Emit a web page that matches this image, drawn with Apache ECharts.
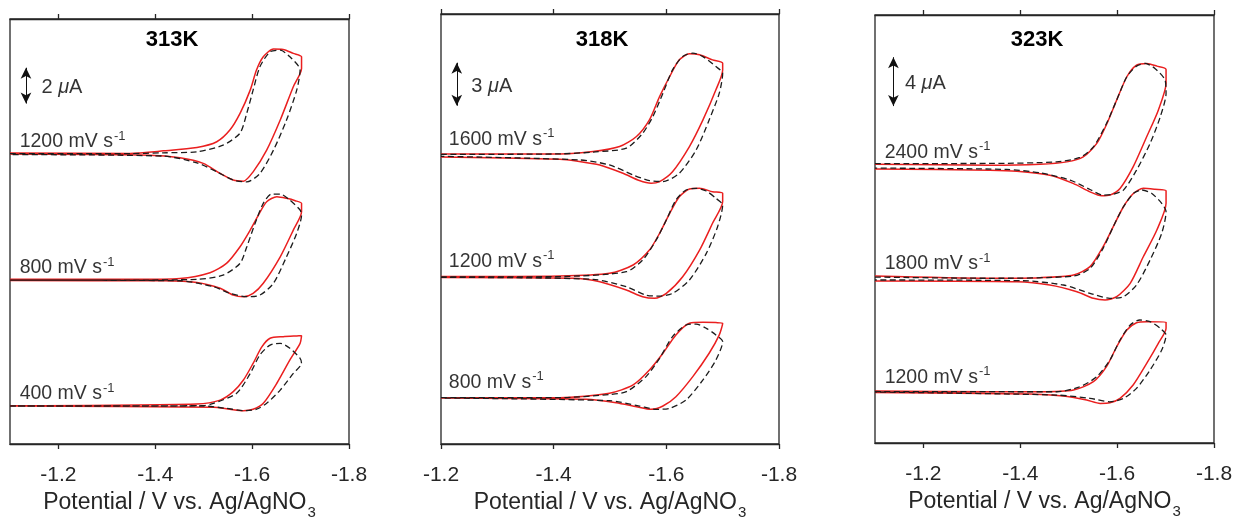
<!DOCTYPE html>
<html><head><meta charset="utf-8">
<script src="https://cdn.jsdelivr.net/npm/echarts@6/dist/echarts.min.js"></script>
<style>html,body{margin:0;padding:0;background:#fff}#c{width:1237px;height:517px}</style>
</head><body><div id="c"></div>
<script>
// ---------- data: [potential (V), current relative to each trace's baseline (µA)] ----------
const tickValues = [-1.2, -1.4, -1.6, -1.8];
const tickLabels = ['-1.2', '-1.4', '-1.6', '-1.8'];
const xAxisTitle = 'Potential / V vs. Ag/AgNO';

// 313 K
const rates313 = ['1200', '800', '400'];
const offsets313 = [16.18, 9.15, 2.12];
const exp313_1200 = [[-1.100,0.06],[-1.348,0.04],[-1.417,0.18],[-1.486,0.37],[-1.527,0.69],[-1.554,1.34],[-1.575,2.27],[-1.596,3.57],[-1.609,4.69],[-1.623,5.43],[-1.644,5.86],[-1.664,5.84],[-1.685,5.62],[-1.702,5.43],[-1.702,4.78],[-1.685,3.76],[-1.658,1.90],[-1.630,0.22],[-1.602,-0.99],[-1.582,-1.51],[-1.561,-1.45],[-1.534,-1.08],[-1.499,-0.52],[-1.451,-0.21],[-1.389,-0.06],[-1.100,0.00]];
const sim313_1200 = [[-1.100,0.03],[-1.348,0.03],[-1.416,0.07],[-1.486,0.13],[-1.540,0.50],[-1.575,1.17],[-1.589,2.29],[-1.602,3.57],[-1.616,4.87],[-1.637,5.71],[-1.658,5.80],[-1.678,5.43],[-1.699,4.69],[-1.692,3.57],[-1.671,1.90],[-1.644,0.22],[-1.616,-1.08],[-1.589,-1.55],[-1.561,-1.45],[-1.527,-0.99],[-1.486,-0.49],[-1.416,-0.11],[-1.100,-0.03]];
const exp313_800 = [[-1.100,0.04],[-1.348,0.04],[-1.451,0.09],[-1.513,0.41],[-1.547,0.93],[-1.575,1.86],[-1.596,2.79],[-1.613,3.63],[-1.630,4.37],[-1.651,4.65],[-1.671,4.56],[-1.689,4.43],[-1.702,4.28],[-1.702,3.81],[-1.685,2.79],[-1.658,1.30],[-1.623,-0.18],[-1.602,-0.74],[-1.582,-0.93],[-1.561,-0.84],[-1.534,-0.46],[-1.486,-0.13],[-1.417,-0.04],[-1.100,-0.03]];
const sim313_800 = [[-1.100,0.00],[-1.348,0.00],[-1.486,0.04],[-1.540,0.28],[-1.575,0.93],[-1.589,1.86],[-1.606,3.16],[-1.623,4.28],[-1.640,4.80],[-1.658,4.80],[-1.678,4.46],[-1.699,3.91],[-1.702,3.63],[-1.692,2.61],[-1.671,1.30],[-1.644,-0.18],[-1.616,-0.84],[-1.589,-0.93],[-1.554,-0.74],[-1.520,-0.37],[-1.451,-0.04],[-1.100,0.00]];
const exp313_400 = [[-1.100,0.01],[-1.486,0.11],[-1.534,0.33],[-1.561,0.80],[-1.582,1.45],[-1.602,2.38],[-1.620,3.30],[-1.637,3.78],[-1.664,3.87],[-1.692,3.91],[-1.702,3.92],[-1.699,3.50],[-1.678,2.57],[-1.651,1.27],[-1.623,0.15],[-1.602,-0.18],[-1.582,-0.26],[-1.554,-0.18],[-1.520,-0.07],[-1.100,0.00]];
const sim313_400 = [[-1.100,0.00],[-1.499,0.02],[-1.520,0.15],[-1.568,0.71],[-1.596,1.82],[-1.616,2.85],[-1.637,3.40],[-1.658,3.50],[-1.678,3.22],[-1.699,2.66],[-1.702,2.38],[-1.685,1.82],[-1.658,0.89],[-1.630,0.15],[-1.609,-0.18],[-1.582,-0.26],[-1.547,-0.13],[-1.499,0.00],[-1.100,0.00]];

// 318 K
const rates318 = ['1600', '1200', '800'];
const offsets318 = [20.17, 11.67, 3.23];
const exp318_1600 = [[-1.200,0.07],[-1.411,0.07],[-1.470,0.23],[-1.517,0.58],[-1.547,1.28],[-1.570,2.44],[-1.588,4.07],[-1.606,5.47],[-1.623,6.63],[-1.641,7.05],[-1.659,6.98],[-1.682,6.63],[-1.700,6.40],[-1.700,5.93],[-1.688,4.54],[-1.665,2.44],[-1.641,0.58],[-1.611,-1.17],[-1.588,-1.86],[-1.573,-1.98],[-1.552,-1.79],[-1.523,-1.28],[-1.482,-0.70],[-1.440,-0.42],[-1.411,-0.30],[-1.200,-0.14]];
const sim318_1600 = [[-1.200,0.03],[-1.411,0.07],[-1.470,0.20],[-1.529,0.47],[-1.558,1.51],[-1.576,2.67],[-1.594,4.31],[-1.611,5.93],[-1.629,6.86],[-1.647,7.10],[-1.665,6.86],[-1.688,6.16],[-1.700,5.70],[-1.694,4.31],[-1.676,2.44],[-1.653,0.35],[-1.623,-1.28],[-1.594,-1.86],[-1.570,-1.79],[-1.541,-1.40],[-1.499,-0.70],[-1.446,-0.35],[-1.200,-0.10]];
const exp318_1200 = [[-1.200,0.01],[-1.411,0.05],[-1.499,0.24],[-1.541,0.82],[-1.570,1.86],[-1.588,3.03],[-1.606,4.42],[-1.623,5.58],[-1.641,6.12],[-1.659,6.17],[-1.682,5.93],[-1.700,5.82],[-1.700,5.24],[-1.682,3.73],[-1.659,1.86],[-1.629,0.00],[-1.600,-1.16],[-1.579,-1.51],[-1.558,-1.40],[-1.529,-0.93],[-1.482,-0.35],[-1.434,-0.11],[-1.200,-0.06]];
const sim318_1200 = [[-1.200,-0.02],[-1.411,0.01],[-1.529,0.35],[-1.558,1.17],[-1.582,2.56],[-1.600,3.96],[-1.617,5.35],[-1.635,6.05],[-1.653,6.17],[-1.671,5.98],[-1.688,5.47],[-1.700,5.00],[-1.691,3.49],[-1.671,1.63],[-1.641,-0.23],[-1.611,-1.16],[-1.588,-1.35],[-1.564,-1.28],[-1.529,-0.70],[-1.470,-0.18],[-1.200,-0.04]];
const exp318_800 = [[-1.200,0.00],[-1.411,0.00],[-1.499,0.31],[-1.541,0.89],[-1.570,1.93],[-1.594,3.10],[-1.617,4.38],[-1.641,5.19],[-1.665,5.26],[-1.688,5.24],[-1.700,5.19],[-1.694,4.38],[-1.676,3.10],[-1.647,1.47],[-1.617,0.07],[-1.594,-0.58],[-1.573,-0.81],[-1.547,-0.63],[-1.511,-0.35],[-1.458,-0.11],[-1.200,-0.02]];
const sim318_800 = [[-1.200,0.00],[-1.411,0.00],[-1.499,0.22],[-1.529,0.42],[-1.564,1.47],[-1.588,2.75],[-1.611,4.26],[-1.635,5.07],[-1.653,5.14],[-1.671,4.84],[-1.688,4.38],[-1.700,3.91],[-1.688,2.63],[-1.665,1.24],[-1.635,-0.16],[-1.606,-0.74],[-1.582,-0.81],[-1.552,-0.58],[-1.499,-0.21],[-1.200,-0.02]];

// 323 K
const rates323 = ['2400', '1800', '1200'];
const offsets323 = [22.6, 13.45, 4.19];
const exp323_2400 = [[-1.100,0.20],[-1.337,0.12],[-1.441,0.20],[-1.496,0.39],[-1.530,0.80],[-1.558,1.90],[-1.579,3.53],[-1.599,5.44],[-1.620,7.35],[-1.640,8.30],[-1.661,8.44],[-1.682,8.22],[-1.701,7.95],[-1.701,6.81],[-1.685,4.62],[-1.661,2.44],[-1.633,-0.02],[-1.606,-1.78],[-1.585,-2.33],[-1.568,-2.39],[-1.544,-2.06],[-1.509,-1.37],[-1.461,-0.70],[-1.393,-0.37],[-1.337,-0.29],[-1.100,-0.20]];
const sim323_2400 = [[-1.100,0.25],[-1.337,0.26],[-1.475,0.39],[-1.523,0.75],[-1.551,1.62],[-1.578,3.53],[-1.599,5.44],[-1.620,7.35],[-1.640,8.22],[-1.658,8.44],[-1.678,8.03],[-1.699,7.08],[-1.701,5.99],[-1.689,4.07],[-1.668,1.90],[-1.640,-0.29],[-1.613,-1.92],[-1.592,-2.25],[-1.571,-2.33],[-1.544,-1.87],[-1.503,-1.10],[-1.441,-0.51],[-1.372,-0.23],[-1.100,-0.12]];
const exp323_1800 = [[-1.100,0.20],[-1.337,0.02],[-1.441,0.07],[-1.510,0.29],[-1.544,0.97],[-1.571,2.60],[-1.592,4.24],[-1.613,5.87],[-1.634,6.97],[-1.654,7.38],[-1.678,7.30],[-1.701,7.18],[-1.701,6.15],[-1.682,3.97],[-1.654,1.78],[-1.627,-0.39],[-1.599,-1.49],[-1.575,-1.76],[-1.551,-1.62],[-1.517,-1.08],[-1.461,-0.53],[-1.393,-0.26],[-1.100,-0.20]];
const sim323_1800 = [[-1.100,0.12],[-1.337,0.02],[-1.510,0.20],[-1.544,0.83],[-1.571,2.47],[-1.592,4.24],[-1.613,5.87],[-1.634,6.97],[-1.651,7.24],[-1.671,6.97],[-1.692,6.15],[-1.701,5.46],[-1.692,3.70],[-1.668,1.51],[-1.640,-0.53],[-1.613,-1.49],[-1.585,-1.62],[-1.544,-1.21],[-1.489,-0.53],[-1.406,-0.18],[-1.100,-0.12]];
const exp323_1200 = [[-1.100,0.06],[-1.337,0.00],[-1.441,0.00],[-1.510,0.14],[-1.551,0.82],[-1.578,2.05],[-1.599,3.68],[-1.620,5.05],[-1.640,5.64],[-1.661,5.73],[-1.701,5.70],[-1.701,5.19],[-1.685,3.96],[-1.661,2.32],[-1.633,0.55],[-1.606,-0.54],[-1.585,-0.90],[-1.565,-0.95],[-1.537,-0.68],[-1.489,-0.35],[-1.420,-0.19],[-1.100,-0.07]];
const sim323_1200 = [[-1.100,0.02],[-1.475,0.00],[-1.523,0.41],[-1.558,1.23],[-1.585,2.59],[-1.606,4.23],[-1.627,5.46],[-1.647,5.87],[-1.668,5.73],[-1.689,5.19],[-1.701,4.64],[-1.692,3.41],[-1.668,1.78],[-1.640,0.28],[-1.613,-0.54],[-1.585,-0.82],[-1.544,-0.54],[-1.475,-0.27],[-1.100,-0.02]];

// ---------- layout / style ----------
const FONT = '"Liberation Sans", Arial, Helvetica, sans-serif';
const RED = '#ea1f1f';
const DARK = '#262626';

const panels = [
  { title: '313K', titleX: 172, grid: {left: 10, top: 19, width: 339, height: 425}, xMax: -1.1, yMax: 23.72,
    rates: rates313, offsets: offsets313,
    curves: [[exp313_1200, sim313_1200], [exp313_800, sim313_800], [exp313_400, sim313_400]],
    labelE: -1.121, labelDy: 0, bar: {E: -1.133, lo: 19.0, amount: 2, gap: 15} },
  { title: '318K', titleX: 602, grid: {left: 441, top: 14, width: 338, height: 430}, xMax: -1.2, yMax: 30,
    rates: rates318, offsets: offsets318,
    curves: [[exp318_1600, sim318_1600], [exp318_1200, sim318_1200], [exp318_800, sim318_800]],
    labelE: -1.2147, labelDy: -3, bar: {E: -1.228, lo: 23.6, amount: 3, gap: 14} },
  { title: '323K', titleX: 1037, grid: {left: 875, top: 15, width: 339, height: 428}, xMax: -1.1, yMax: 35,
    rates: rates323, offsets: offsets323,
    curves: [[exp323_2400, sim323_2400], [exp323_1800, sim323_1800], [exp323_1200, sim323_1200]],
    labelE: -1.121, labelDy: -2, bar: {E: -1.138, lo: 27.55, amount: 4, gap: 11} }
];

const labelFor = v => {
  const k = tickValues.findIndex(t => Math.abs(t - v) < 1e-6);
  return k >= 0 ? tickLabels[k] : '';
};

const grids = [], xAxes = [], yAxes = [], series = [], graphics = [];
panels.forEach((p, i) => {
  grids.push(Object.assign({show: true, borderColor: DARK, borderWidth: 1.3, backgroundColor: 'transparent',
    containLabel: false, outerBoundsMode: 'none'}, p.grid));
  const common = {
    gridIndex: i, type: 'value', min: -1.8, max: p.xMax, inverse: true, interval: 0.2,
    axisLine: {show: true, onZero: false, lineStyle: {color: DARK, width: 1.3}},
    axisTick: {show: true, inside: false, length: 5, customValues: tickValues, lineStyle: {color: DARK, width: 1.3}},
    splitLine: {show: false}
  };
  xAxes.push(Object.assign({}, common, {
    position: 'bottom',
    axisLabel: {show: true, customValues: tickValues, formatter: labelFor, fontFamily: FONT, fontSize: 21, color: DARK, margin: 21},
    name: '{a|' + xAxisTitle + '}{s|3}', nameLocation: 'middle', nameGap: 39,
    nameTextStyle: {rich: {
      a: {fontFamily: FONT, fontSize: 23, color: DARK},
      s: {fontFamily: FONT, fontSize: 15, color: DARK, padding: [20, 0, 0, 1]}
    }}
  }));
  xAxes.push(Object.assign({}, common, {position: 'top', axisLabel: {show: false}}));
  yAxes.push({gridIndex: i, type: 'value', min: 0, max: p.yMax, show: false});

  const xi = 2 * i;
  // experimental (red, solid)
  p.curves.forEach((pair, k) => {
    series.push({type: 'line', xAxisIndex: xi, yAxisIndex: i, silent: true, symbol: 'none', smooth: 0.25,
      data: pair[0].map(d => [d[0], d[1] + p.offsets[k]]),
      lineStyle: {color: RED, width: 1.5}, z: 2});
  });
  // simulated (black, dashed)
  p.curves.forEach((pair, k) => {
    series.push({type: 'line', xAxisIndex: xi, yAxisIndex: i, silent: true, symbol: 'none', smooth: 0.25,
      data: pair[1].map(d => [d[0], d[1] + p.offsets[k]]),
      lineStyle: {color: '#1c1c1c', width: 1.3, type: [6, 3.5]}, z: 3});
  });
  // scan-rate labels
  series.push({type: 'scatter', xAxisIndex: xi, yAxisIndex: i, silent: true, symbolSize: 1,
    itemStyle: {color: 'rgba(0,0,0,0)'},
    data: p.offsets.map((o, k) => ({value: [p.labelE, o], label: {formatter: '{a|' + p.rates[k] + ' mV s}{p|-1}'}})),
    label: {show: true, position: [0, 0], align: 'left', verticalAlign: 'bottom', offset: [0, p.labelDy],
      rich: {
        a: {fontFamily: FONT, fontSize: 19.5, color: '#000'},
        p: {fontFamily: FONT, fontSize: 13, color: '#000', padding: [0, 0, 11, 1]}
      }}, z: 5});
  // scale bar
  const b = p.bar;
  series.push({type: 'scatter', xAxisIndex: xi, yAxisIndex: i, silent: true, symbolSize: 1,
    itemStyle: {color: 'rgba(0,0,0,0)'},
    data: [[b.E, b.lo + b.amount / 2]],
    label: {show: true, position: 'right', distance: b.gap, offset: [0, 2],
      formatter: '{n|' + b.amount + ' }{m|μ}{n|A}',
      rich: {
        n: {fontFamily: FONT, fontSize: 20, color: '#000'},
        m: {fontFamily: FONT, fontSize: 20, color: '#000', fontStyle: 'italic'}
      }},
    markLine: {silent: true, animation: false, symbol: ['arrow', 'arrow'], symbolSize: [8, 11],
      label: {show: false}, lineStyle: {color: '#111', width: 1, type: 'solid'},
      data: [[{coord: [b.E, b.lo]}, {coord: [b.E, b.lo + b.amount]}]]},
    z: 5});

  graphics.push({type: 'text', x: p.titleX, y: 40, silent: true,
    style: {text: p.title, fontFamily: FONT, fontSize: 22, fontWeight: 'bold', fill: '#000',
      textAlign: 'center', textVerticalAlign: 'middle'}});
});

const chart = echarts.init(document.getElementById('c'), null, {renderer: 'canvas'});
chart.setOption({
  animation: false,
  backgroundColor: '#fff',
  grid: grids, xAxis: xAxes, yAxis: yAxes, series: series, graphic: graphics
});
</script></body></html>
